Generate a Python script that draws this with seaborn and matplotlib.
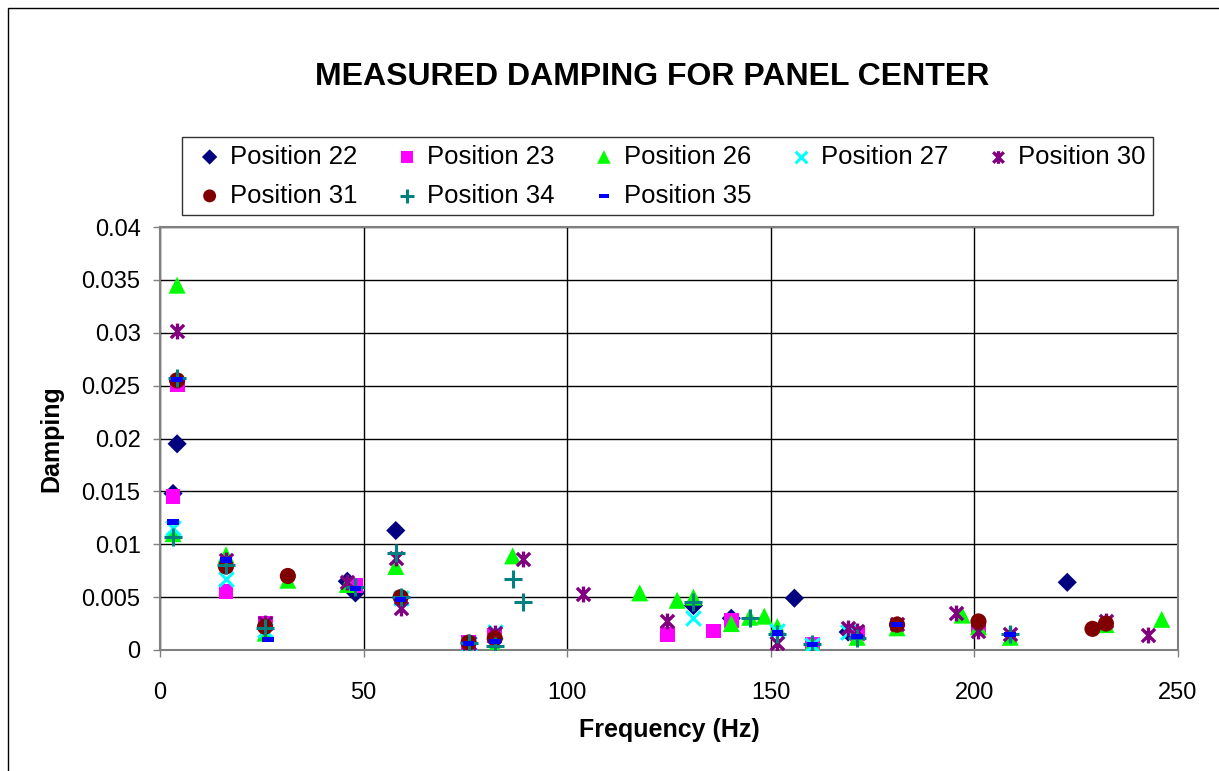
import numpy as np
import pandas as pd
import matplotlib
matplotlib.use("Agg")
import matplotlib.pyplot as plt
import seaborn as sns
from matplotlib.path import Path
from matplotlib.patches import Rectangle
from matplotlib.ticker import FuncFormatter

# ---- data ----
series_names = ["Position 22", "Position 23", "Position 26", "Position 27",
                "Position 30", "Position 31", "Position 34", "Position 35"]

p22_f = [3.2, 4.2, 46, 48, 57.9, 131, 140.3, 155.8, 169, 222.8]
p22_d = [0.0148, 0.0195, 0.0065, 0.0054, 0.0113, 0.0042, 0.0030, 0.0049, 0.0017, 0.0064]

p23_f = [3.2, 4.2, 16.2, 25.8, 48, 75.8, 82.2, 124.6, 136, 140.3, 160.2, 171.2, 201]
p23_d = [0.0145, 0.0251, 0.0055, 0.0025, 0.0061, 0.0007, 0.0014, 0.0015, 0.0018, 0.0028,
         0.0005, 0.0016, 0.0022]

p26_f = [3.2, 4.2, 16.2, 25.8, 31.4, 46, 57.9, 82.2, 86.6, 117.8, 127, 131, 140.3, 144.8,
         148.4, 151.6, 160.2, 171.2, 181, 197, 201, 208.8, 232.3, 246]
p26_d = [0.0110, 0.0345, 0.0090, 0.0016, 0.0066, 0.0062, 0.0079, 0.0003, 0.0089, 0.0054,
         0.0047, 0.0050, 0.0025, 0.0031, 0.0032, 0.0022, 0.0006, 0.0012, 0.0021, 0.0033,
         0.0022, 0.0012, 0.0024, 0.0029]

p27_f = [3.2, 16.2, 25.8, 59.1, 75.8, 82.2, 131, 151.6, 160.2, 169]
p27_d = [0.0115, 0.0067, 0.0019, 0.0049, 0.0006, 0.0017, 0.0030, 0.0018, 0.0005, 0.0017]

p30_f = [4.2, 16.2, 25.8, 46, 57.9, 59.1, 75.8, 82.2, 89.1, 104, 124.6, 151.6, 169,
         171.2, 181, 195.5, 201, 208.8, 232.3, 242.6]
p30_d = [0.0302, 0.0085, 0.0026, 0.0064, 0.0087, 0.0040, 0.0007, 0.0016, 0.0086, 0.0053,
         0.0027, 0.0007, 0.0021, 0.0018, 0.0025, 0.0035, 0.0018, 0.0015, 0.0027, 0.0014]

p31_f = [4.2, 16.2, 25.8, 31.4, 59.1, 75.8, 82.2, 181, 201, 229, 232.3]
p31_d = [0.0255, 0.0079, 0.0022, 0.0070, 0.0050, 0.0007, 0.0011, 0.0024, 0.0027, 0.0020,
         0.0025]

p34_f = [3.2, 4.2, 16.2, 25.8, 48, 57.9, 59.1, 75.8, 82.2, 86.6, 89.1, 131, 144.8, 151.6,
         160.2, 171.2, 208.8]
p34_d = [0.0107, 0.0257, 0.0080, 0.0021, 0.0060, 0.0092, 0.0050, 0.0007, 0.0004, 0.0067,
         0.0045, 0.0045, 0.0030, 0.0015, 0.0006, 0.0011, 0.0015]

p35_f = [3.2, 4.2, 16.2, 26.5, 48, 59.1, 75.8, 82.2, 151.6, 160.2, 171.2, 181, 208.8]
p35_d = [0.0121, 0.0256, 0.0085, 0.0010, 0.0058, 0.0048, 0.0006, 0.0008, 0.0016, 0.0005,
         0.0013, 0.0024, 0.0015]

x_ticks = [0, 50, 100, 150, 200, 250]
y_ticks = [0, 0.005, 0.01, 0.015, 0.02, 0.025, 0.03, 0.035, 0.04]

freqs = [p22_f, p23_f, p26_f, p27_f, p30_f, p31_f, p34_f, p35_f]
damps = [p22_d, p23_d, p26_d, p27_d, p30_d, p31_d, p34_d, p35_d]

# ---- styles ----
star = Path([(-1, -1), (1, 1), (-1, 1), (1, -1), (0, -1.2), (0, 1.2)],
            [Path.MOVETO, Path.LINETO, Path.MOVETO, Path.LINETO, Path.MOVETO, Path.LINETO])
dash = Path([(-1, -0.45), (1, -0.45), (1, 0.45), (-1, 0.45), (-1, -0.45)],
            [Path.MOVETO, Path.LINETO, Path.LINETO, Path.LINETO, Path.CLOSEPOLY])

styles = {
    "Position 22": dict(marker="D", color="#000080", s=95, lw=0, kind="fill"),
    "Position 23": dict(marker="s", color="#FF00FF", s=115, lw=0, kind="fill"),
    "Position 26": dict(marker="^", color="#00FF00", s=150, lw=0, kind="fill"),
    "Position 27": dict(marker="x", color="#00FFFF", s=110, lw=2.2, kind="line"),
    "Position 30": dict(marker=star, color="#800080", s=130, lw=2.4, kind="path"),
    "Position 31": dict(marker="o", color="#800000", s=135, lw=0, kind="fill"),
    "Position 34": dict(marker="+", color="#008080", s=150, lw=2.2, kind="line"),
    "Position 35": dict(marker=dash, color="#0000FF", s=70, lw=0, kind="fill"),
}

rows = []
for name, f, d in zip(series_names, freqs, damps):
    for fi, di in zip(f, d):
        rows.append((name, fi, di))
df = pd.DataFrame(rows, columns=["Series", "Frequency", "Damping"])

sns.set_theme(style="white")
plt.rcParams["font.family"] = ["Liberation Sans", "DejaVu Sans"]
plt.rcParams["text.color"] = "black"
plt.rcParams["axes.labelcolor"] = "black"
plt.rcParams["xtick.color"] = "black"
plt.rcParams["ytick.color"] = "black"

fig = plt.figure(figsize=(12.19, 7.71), dpi=100)
ax = fig.add_axes([160 / 1219, 1 - 650 / 771, (1178 - 160) / 1219, (650 - 227) / 771])

for name in series_names:
    st = styles[name]
    sub = df[df["Series"] == name]
    if st["kind"] == "fill":
        sns.scatterplot(data=sub, x="Frequency", y="Damping", ax=ax, marker=st["marker"],
                        color=st["color"], s=st["s"], linewidth=0, edgecolor="none",
                        label=name, zorder=3)
    elif st["kind"] == "line":
        sns.scatterplot(data=sub, x="Frequency", y="Damping", ax=ax, marker=st["marker"],
                        color=st["color"], s=st["s"], linewidth=st["lw"],
                        label=name, zorder=3)
    else:
        sns.scatterplot(data=sub, x="Frequency", y="Damping", ax=ax, marker=st["marker"],
                        color=st["color"], edgecolor=st["color"], s=st["s"],
                        linewidth=st["lw"], label=name, zorder=3)

ax.set_xlim(0, 250)
ax.set_ylim(0, 0.04)
ax.set_xticks(x_ticks)
ax.set_yticks(y_ticks)
ax.yaxis.set_major_formatter(FuncFormatter(lambda v, p: f"{v:g}"))
ax.grid(True, color="black", linewidth=1.0)
ax.set_axisbelow(True)
for sp in ax.spines.values():
    sp.set_color("#808080")
    sp.set_linewidth(1.5)
ax.tick_params(axis="both", labelsize=17, length=5, width=1, color="#808080",
               labelcolor="black", direction="out", bottom=True, left=True, pad=9)
ax.tick_params(axis="x", pad=18)
ax.set_xlabel("Frequency (Hz)", fontsize=18, fontweight="bold", labelpad=10, color="black")
ax.set_ylabel("Damping", fontsize=18, fontweight="bold", labelpad=13, color="black")

ax.legend_.remove()
h, l = ax.get_legend_handles_labels()
hm = dict(zip(l, h))
order = ["Position 22", "Position 31", "Position 23", "Position 34",
         "Position 26", "Position 35", "Position 27", "Position 30"]
leg = fig.legend([hm[k] for k in order], order, ncol=5, loc="upper left",
                 bbox_to_anchor=(182 / 1219, 1 - 137 / 771), fontsize=18.5,
                 frameon=True, fancybox=False, edgecolor="black", borderpad=0.3,
                 handletextpad=0.0, columnspacing=1.16, labelspacing=0.58,
                 markerscale=0.8, handlelength=1.55, borderaxespad=0)
leg.get_frame().set_linewidth(1.0)
for t in leg.get_texts():
    t.set_color("black")

fig.text(652 / 1219, 1 - 77 / 771, "MEASURED DAMPING FOR PANEL CENTER", ha="center",
         va="center", fontsize=23, fontweight="bold", color="black")

fig.patches.append(Rectangle((8 / 1219, -0.01), 1.0, 1 - 8 / 771 + 0.01,
                             transform=fig.transFigure, fill=False, edgecolor="black",
                             linewidth=1.0))

fig.savefig("out.png", dpi=100, facecolor="white")
